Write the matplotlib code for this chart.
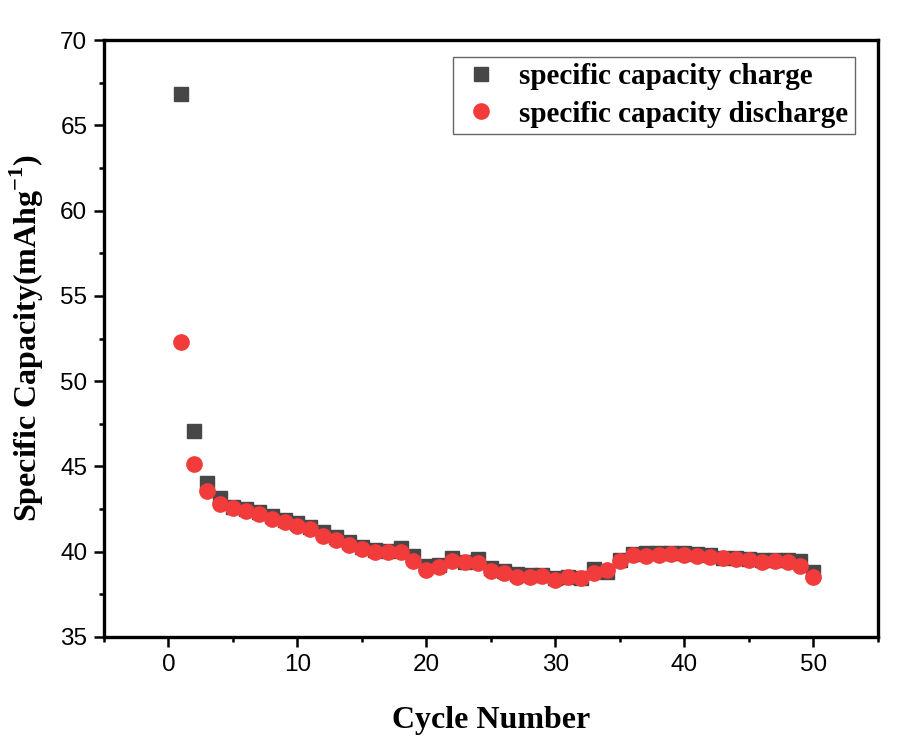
import matplotlib

matplotlib.use("Agg")
import matplotlib.pyplot as plt
from matplotlib.ticker import MultipleLocator

# cycle data (mAh/g)
cycles = list(range(1, 51))
charge = [
    66.83, 47.08, 44.0, 43.17, 42.63, 42.53, 42.35, 42.08, 41.88, 41.69,
    41.45, 41.16, 40.87, 40.57, 40.25, 40.09, 40.05, 40.2, 39.74, 39.17,
    39.2, 39.66, 39.38, 39.56, 39.02, 38.86, 38.68, 38.62, 38.66, 38.48,
    38.5, 38.43, 38.98, 38.8, 39.52, 39.88, 39.9, 39.93, 39.93, 39.93,
    39.85, 39.8, 39.66, 39.66, 39.6, 39.54, 39.54, 39.5, 39.46, 38.81,
]
discharge = [
    52.32, 45.13, 43.58, 42.8, 42.58, 42.41, 42.2, 41.92, 41.77, 41.53,
    41.32, 40.94, 40.69, 40.4, 40.15, 40.01, 40.0, 40.0, 39.48, 38.93,
    39.13, 39.48, 39.42, 39.36, 38.84, 38.78, 38.5, 38.54, 38.58, 38.35,
    38.5, 38.45, 38.78, 38.93, 39.48, 39.81, 39.77, 39.81, 39.87, 39.81,
    39.77, 39.68, 39.62, 39.56, 39.52, 39.42, 39.48, 39.42, 39.19, 38.5,
]

plt.rcParams["mathtext.fontset"] = "custom"
plt.rcParams["mathtext.rm"] = "Liberation Serif:bold"
plt.rcParams["mathtext.bf"] = "Liberation Serif:bold"

fig = plt.figure(figsize=(9.04, 7.37), dpi=100)
ax = fig.add_axes([0.115, 0.1357, 0.856, 0.81])

ax.plot(cycles, charge, ls="none", marker="s", ms=10, color="#474747",
        mec="#474747", label="specific capacity charge")
ax.plot(cycles, discharge, ls="none", marker="o", ms=11, color="#f23b3b",
        mec="#f23b3b", label="specific capacity discharge")

ax.set_xlim(-5, 55)
ax.set_ylim(35, 70)
ax.xaxis.set_major_locator(MultipleLocator(10))
ax.xaxis.set_minor_locator(MultipleLocator(5))
ax.yaxis.set_major_locator(MultipleLocator(5))
ax.yaxis.set_minor_locator(MultipleLocator(2.5))

for s in ax.spines.values():
    s.set_linewidth(2.4)
ax.tick_params(which="both", direction="out", width=1.8, top=False, right=False)
ax.tick_params(which="major", length=7, labelsize=17.5, pad=5)
ax.tick_params(which="minor", length=3.5)
for lab in ax.get_xticklabels() + ax.get_yticklabels():
    lab.set_fontfamily("Liberation Sans")

ax.set_xlabel("Cycle Number", fontsize=23, fontweight="bold",
              fontfamily="Liberation Serif", labelpad=22)
ax.set_ylabel("Specific Capacity(mAhg$^{-1}$)", fontsize=23, fontweight="bold",
              fontfamily="Liberation Serif", labelpad=10)

leg = ax.legend(loc="upper right", bbox_to_anchor=(0.970, 0.9715), borderaxespad=0,
                fancybox=False, edgecolor="#666666", framealpha=1,
                prop={"family": "Liberation Serif", "weight": "bold", "size": 21},
                handletextpad=0.55, borderpad=0.22, labelspacing=0.35, handlelength=1.5)
leg.get_frame().set_linewidth(1.0)

fig.savefig("out.png", dpi=100)
